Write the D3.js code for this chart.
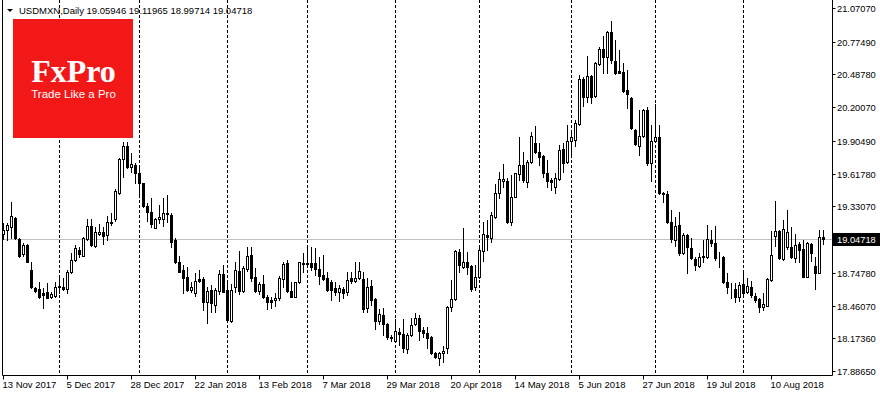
<!DOCTYPE html>
<html>
<head>
<meta charset="utf-8">
<script src="https://cdn.jsdelivr.net/npm/d3@7"></script>
<style>
  html, body { margin: 0; padding: 0; background: #fff; }
  svg { display: block; }
</style>
</head>
<body>
<svg id="chart" width="880" height="395"></svg>
<script>
// USDMXN daily candles, 13 Nov 2017 .. end of Aug 2018 (one entry per trading day)
const opens = [
  19.086, 19.123, 19.152, 19.229, 19.044, 18.910, 18.992, 18.773, 18.615, 18.606,
  18.568, 18.580, 18.538, 18.547, 18.621, 18.626, 18.603, 18.758, 18.860, 18.948,
  18.898, 19.044, 19.161, 18.986, 19.088, 19.103, 19.080, 19.196, 19.220, 19.451,
  19.744, 19.860, 19.679, 19.694, 19.626, 19.533, 19.336, 19.279, 19.143, 19.217,
  19.217, 19.270, 19.255, 19.036, 18.840, 18.773, 18.714, 18.597, 18.568, 18.691,
  18.694, 18.494, 18.597, 18.465, 18.591, 18.737, 18.597, 18.328, 18.626, 18.766,
  18.588, 18.781, 18.904, 18.714, 18.591, 18.650, 18.533, 18.509, 18.509, 18.524,
  18.694, 18.831, 18.588, 18.538, 18.665, 18.828, 18.837, 18.831, 18.831, 18.781,
  18.729, 18.700, 18.665, 18.612, 18.577, 18.606, 18.582, 18.700, 18.679, 18.700,
  18.691, 18.437, 18.632, 18.515, 18.328, 18.378, 18.299, 18.173, 18.152, 18.231,
  18.211, 18.080, 18.202, 18.299, 18.349, 18.246, 18.217, 18.188, 18.042, 17.998,
  18.042, 18.086, 18.451, 18.518, 18.933, 18.801, 18.845, 18.808, 18.621, 18.708,
  18.942, 19.080, 19.051, 19.240, 19.445, 19.556, 19.556, 19.196, 19.415, 19.615,
  19.694, 19.547, 19.717, 19.889, 19.805, 19.775, 19.621, 19.562, 19.503, 19.571,
  19.831, 19.717, 19.907, 19.913, 20.051, 20.445, 20.287, 20.474, 20.302, 20.580,
  20.711, 20.638, 20.858, 20.606, 20.518, 20.507, 20.351, 20.284, 20.001, 19.860,
  19.948, 20.176, 19.708, 19.907, 19.937, 19.439, 19.437, 19.196, 19.036, 19.167,
  18.919, 19.080, 18.969, 18.866, 18.808, 18.884, 18.884, 19.036, 19.007, 18.880,
  18.889, 18.665, 18.621, 18.603, 18.538, 18.650, 18.582, 18.626, 18.547, 18.515,
  18.445, 18.460, 18.685, 19.071, 19.115, 18.866, 18.972, 18.972, 18.875, 18.998,
  18.957, 18.714, 18.998, 18.808, 18.749, 19.05946
];
const highs = [
  19.187, 19.185, 19.372, 19.237, 19.053, 19.007, 19.000, 18.840, 18.626, 18.670,
  18.615, 18.661, 18.582, 18.670, 18.714, 18.700, 18.773, 18.924, 18.992, 18.977,
  19.065, 19.220, 19.217, 19.152, 19.173, 19.152, 19.246, 19.270, 19.481, 19.758,
  19.898, 19.898, 19.796, 19.708, 19.665, 19.538, 19.358, 19.401, 19.226, 19.343,
  19.401, 19.430, 19.270, 19.051, 18.895, 18.816, 18.801, 18.670, 18.743, 18.773,
  18.714, 18.626, 18.641, 18.612, 18.773, 18.816, 18.670, 18.647, 18.845, 18.939,
  18.808, 18.972, 18.977, 18.787, 18.670, 18.729, 18.553, 18.538, 18.568, 18.720,
  18.845, 18.860, 18.670, 18.670, 18.845, 18.919, 18.983, 18.977, 18.963, 18.889,
  18.904, 18.758, 18.685, 18.670, 18.641, 18.626, 18.758, 18.758, 18.845, 18.845,
  18.758, 18.700, 18.685, 18.524, 18.428, 18.437, 18.305, 18.202, 18.340, 18.261,
  18.340, 18.217, 18.349, 18.398, 18.378, 18.275, 18.275, 18.194, 18.056, 18.056,
  18.106, 18.457, 18.685, 18.948, 18.954, 19.138, 18.933, 18.816, 18.816, 18.977,
  19.196, 19.211, 19.284, 19.527, 19.635, 19.702, 19.577, 19.606, 19.626, 19.942,
  19.810, 19.737, 19.986, 20.036, 19.884, 19.781, 19.737, 19.577, 19.621, 19.869,
  19.884, 20.045, 19.986, 20.088, 20.483, 20.468, 20.650, 20.483, 20.600, 20.726,
  20.825, 20.872, 20.957, 20.790, 20.702, 20.586, 20.527, 20.290, 20.009, 20.176,
  20.182, 20.205, 20.045, 20.226, 20.045, 19.460, 19.466, 19.299, 19.240, 19.284,
  19.094, 19.088, 19.051, 18.889, 18.919, 19.036, 19.167, 19.123, 19.159, 18.933,
  18.895, 18.743, 18.656, 18.656, 18.670, 18.758, 18.700, 18.679, 18.573, 18.524,
  18.568, 18.705, 19.115, 19.380, 19.123, 19.211, 19.299, 19.152, 19.088, 19.021,
  19.036, 19.021, 19.007, 18.889, 19.123, 19.11965
];
const lows = [
  19.042, 19.036, 19.051, 19.044, 18.889, 18.898, 18.840, 18.615, 18.582, 18.527,
  18.442, 18.524, 18.524, 18.538, 18.568, 18.597, 18.568, 18.749, 18.851, 18.889,
  18.895, 19.036, 18.983, 18.972, 19.080, 19.000, 19.036, 19.167, 19.202, 19.439,
  19.591, 19.665, 19.635, 19.533, 19.415, 19.328, 19.205, 19.152, 19.138, 19.182,
  19.159, 19.196, 18.977, 18.831, 18.752, 18.573, 18.591, 18.582, 18.544, 18.670,
  18.422, 18.305, 18.407, 18.407, 18.562, 18.576, 18.319, 18.319, 18.582, 18.562,
  18.576, 18.764, 18.679, 18.576, 18.562, 18.524, 18.428, 18.437, 18.457, 18.509,
  18.626, 18.582, 18.533, 18.533, 18.656, 18.758, 18.801, 18.773, 18.729, 18.650,
  18.685, 18.591, 18.509, 18.553, 18.503, 18.524, 18.553, 18.661, 18.670, 18.691,
  18.407, 18.407, 18.465, 18.252, 18.299, 18.202, 18.165, 18.152, 18.144, 18.115,
  18.056, 18.047, 18.194, 18.290, 18.159, 18.182, 18.086, 18.036, 17.998, 17.939,
  17.968, 18.047, 18.416, 18.509, 18.758, 18.787, 18.737, 18.591, 18.597, 18.700,
  18.854, 18.948, 19.021, 19.226, 19.401, 19.503, 19.182, 19.167, 19.410, 19.562,
  19.547, 19.503, 19.708, 19.796, 19.694, 19.588, 19.503, 19.474, 19.445, 19.562,
  19.635, 19.708, 19.790, 19.860, 20.044, 20.214, 20.249, 20.240, 20.293, 20.571,
  20.503, 20.503, 20.591, 20.492, 20.498, 20.337, 20.196, 20.009, 19.869, 19.781,
  19.942, 19.694, 19.556, 19.898, 19.439, 19.372, 19.187, 19.021, 18.983, 18.904,
  18.910, 18.749, 18.869, 18.773, 18.796, 18.845, 18.875, 18.983, 18.860, 18.801,
  18.656, 18.568, 18.524, 18.494, 18.503, 18.553, 18.568, 18.538, 18.494, 18.407,
  18.422, 18.457, 18.679, 18.983, 18.866, 18.860, 18.957, 18.875, 18.845, 18.845,
  18.708, 18.708, 18.854, 18.603, 18.743, 18.99714
];
const closes = [
  19.123, 19.167, 19.246, 19.053, 18.898, 18.992, 18.845, 18.623, 18.591, 18.536,
  18.556, 18.530, 18.562, 18.623, 18.632, 18.606, 18.758, 18.860, 18.963, 18.910,
  19.051, 19.161, 18.992, 19.103, 19.108, 19.074, 19.191, 19.187, 19.466, 19.744,
  19.860, 19.679, 19.702, 19.626, 19.533, 19.336, 19.284, 19.173, 19.217, 19.235,
  19.270, 19.261, 19.021, 18.840, 18.758, 18.705, 18.597, 18.626, 18.676, 18.676,
  18.494, 18.591, 18.480, 18.597, 18.737, 18.582, 18.334, 18.597, 18.773, 18.591,
  18.793, 18.895, 18.700, 18.588, 18.650, 18.533, 18.494, 18.494, 18.524, 18.700,
  18.823, 18.591, 18.538, 18.665, 18.840, 18.837, 18.828, 18.801, 18.781, 18.723,
  18.694, 18.597, 18.597, 18.582, 18.612, 18.573, 18.685, 18.679, 18.700, 18.766,
  18.428, 18.626, 18.509, 18.328, 18.387, 18.299, 18.182, 18.182, 18.237, 18.211,
  18.091, 18.202, 18.290, 18.349, 18.240, 18.217, 18.179, 18.042, 18.007, 18.042,
  18.065, 18.445, 18.515, 18.942, 18.816, 18.845, 18.801, 18.603, 18.708, 18.948,
  19.088, 19.059, 19.255, 19.451, 19.568, 19.568, 19.196, 19.415, 19.621, 19.694,
  19.562, 19.717, 19.948, 19.805, 19.761, 19.621, 19.556, 19.547, 19.577, 19.825,
  19.714, 19.904, 19.937, 20.059, 20.445, 20.287, 20.474, 20.287, 20.591, 20.711,
  20.638, 20.858, 20.615, 20.498, 20.503, 20.345, 20.314, 20.016, 19.875, 19.948,
  20.176, 19.708, 19.904, 19.937, 19.445, 19.451, 19.196, 19.042, 19.159, 18.919,
  19.080, 18.972, 18.875, 18.816, 18.889, 18.895, 19.044, 19.012, 18.875, 18.875,
  18.665, 18.621, 18.626, 18.533, 18.641, 18.568, 18.632, 18.553, 18.509, 18.451,
  18.472, 18.691, 18.904, 19.115, 18.875, 19.132, 19.108, 18.884, 18.992, 18.948,
  18.714, 19.007, 18.919, 18.749, 19.065, 19.04718
];

// price scale labels on the right
const priceTicks = [21.07070, 20.77490, 20.48780, 20.20070, 19.90490, 19.61780,
                    19.33070, 18.74780, 18.46070, 18.17360, 17.88650];
// date labels (bar index, text)
const dateTickIdx = [0, 16, 32, 48, 64, 80, 96, 112, 128, 144, 160, 176, 192];
const dateTickText = ["13 Nov 2017", "5 Dec 2017", "28 Dec 2017", "22 Jan 2018", "13 Feb 2018",
  "7 Mar 2018", "29 Mar 2018", "20 Apr 2018", "14 May 2018", "5 Jun 2018",
  "27 Jun 2018", "19 Jul 2018", "10 Aug 2018"];
// first bar of each month (period separators)
const monthStartIdx = [14, 34, 56, 76, 98, 119, 142, 163, 185];

const symbol = "USDMXN,Daily";
const lastQuote = [19.05946, 19.11965, 18.99714, 19.04718];

const font = "'Liberation Sans', Arial, sans-serif";
const svg = d3.select("#chart");

const plotLeft = 2.5, plotRight = 832.5, plotBottom = 375.5;

const x = d3.scaleLinear().domain([0, closes.length - 1]).range([3.5, 3.5 + 4 * (closes.length - 1)]);
const y = d3.scaleLinear().domain([17.8865, 21.0707]).range([371, 8]);
const py = v => Math.round(y(v)) + 0.5;

// period separators
svg.append("g").selectAll("line")
  .data(monthStartIdx)
  .enter().append("line")
  .attr("x1", d => x(d)).attr("x2", d => x(d))
  .attr("y1", 0).attr("y2", plotBottom - 1)
  .attr("stroke", "#000")
  .attr("stroke-width", 1)
  .attr("stroke-dasharray", "3,2");

// last price line
const lastClose = closes[closes.length - 1];
svg.append("line")
  .attr("x1", plotLeft).attr("x2", plotRight)
  .attr("y1", py(lastClose)).attr("y2", py(lastClose))
  .attr("stroke", "#c0c0c0");

// candles
const bars = d3.range(closes.length).map(i => ({
  i, o: opens[i], h: highs[i], l: lows[i], c: closes[i]
}));

const candle = svg.append("g").selectAll("g")
  .data(bars)
  .enter().append("g");

candle.append("line")
  .attr("x1", d => x(d.i)).attr("x2", d => x(d.i))
  .attr("y1", d => Math.round(y(d.h))).attr("y2", d => Math.round(y(d.l)) + 1)
  .attr("stroke", "#000");

candle.append("rect")
  .attr("x", d => x(d.i) - 1)
  .attr("width", 2)
  .attr("y", d => py(Math.max(d.o, d.c)))
  .attr("height", d => Math.max(0, py(Math.min(d.o, d.c)) - py(Math.max(d.o, d.c))))
  .attr("fill", d => d.c >= d.o ? "#fff" : "#000")
  .attr("stroke", "#000")
  .attr("stroke-width", 1);

// frame
svg.append("path")
  .attr("d", `M${plotLeft},0V${plotBottom}H${plotRight}V0`)
  .attr("fill", "none")
  .attr("stroke", "#000");

// right price scale
const yAxis = svg.append("g");
yAxis.selectAll("line")
  .data(priceTicks)
  .enter().append("line")
  .attr("x1", plotRight).attr("x2", plotRight + 3)
  .attr("y1", d => py(d)).attr("y2", d => py(d))
  .attr("stroke", "#000");
yAxis.selectAll("text")
  .data(priceTicks)
  .enter().append("text")
  .attr("x", 837)
  .attr("y", d => Math.round(y(d)) + 4)
  .attr("font-family", font)
  .attr("font-size", "9.3px")
  .attr("fill", "#000")
  .text(d => d.toFixed(5));

// current price tag
svg.append("rect")
  .attr("x", 833).attr("y", Math.round(y(lastClose)) - 6)
  .attr("width", 47).attr("height", 13)
  .attr("fill", "#000");
svg.append("text")
  .attr("x", 837)
  .attr("y", Math.round(y(lastClose)) + 4)
  .attr("font-family", font)
  .attr("font-size", "9.3px")
  .attr("fill", "#fff")
  .text(lastClose.toFixed(5));

// bottom date scale
const xAxis = svg.append("g");
xAxis.selectAll("line")
  .data(dateTickIdx)
  .enter().append("line")
  .attr("x1", d => x(d)).attr("x2", d => x(d))
  .attr("y1", plotBottom).attr("y2", plotBottom + 4)
  .attr("stroke", "#000");
xAxis.selectAll("text")
  .data(dateTickIdx)
  .enter().append("text")
  .attr("x", d => x(d) - 1)
  .attr("y", 388)
  .attr("font-family", font)
  .attr("font-size", "9.5px")
  .attr("fill", "#000")
  .text((d, k) => dateTickText[k]);

// FxPro logo
const logo = svg.append("g");
logo.append("rect")
  .attr("x", 13).attr("y", 19)
  .attr("width", 120).attr("height", 119)
  .attr("fill", "#f21818");
logo.append("text")
  .attr("x", 73.5).attr("y", 82)
  .attr("text-anchor", "middle")
  .attr("font-family", "'Liberation Serif', 'DejaVu Serif', serif")
  .attr("font-size", "32px")
  .attr("font-weight", "bold")
  .attr("fill", "#fff")
  .text("FxPro");
logo.append("text")
  .attr("x", 73.5).attr("y", 97.5)
  .attr("text-anchor", "middle")
  .attr("font-family", font)
  .attr("font-size", "11.5px")
  .attr("fill", "#fff")
  .text("Trade Like a Pro");

// header
svg.append("path")
  .attr("d", "M7,9H13L10,12Z")
  .attr("fill", "#000");
svg.append("text")
  .attr("x", 19).attr("y", 14)
  .attr("font-family", font)
  .attr("font-size", "9.5px")
  .attr("fill", "#000")
  .text(symbol + "  " + lastQuote.map(v => v.toFixed(5)).join(" "));
</script>
</body>
</html>
